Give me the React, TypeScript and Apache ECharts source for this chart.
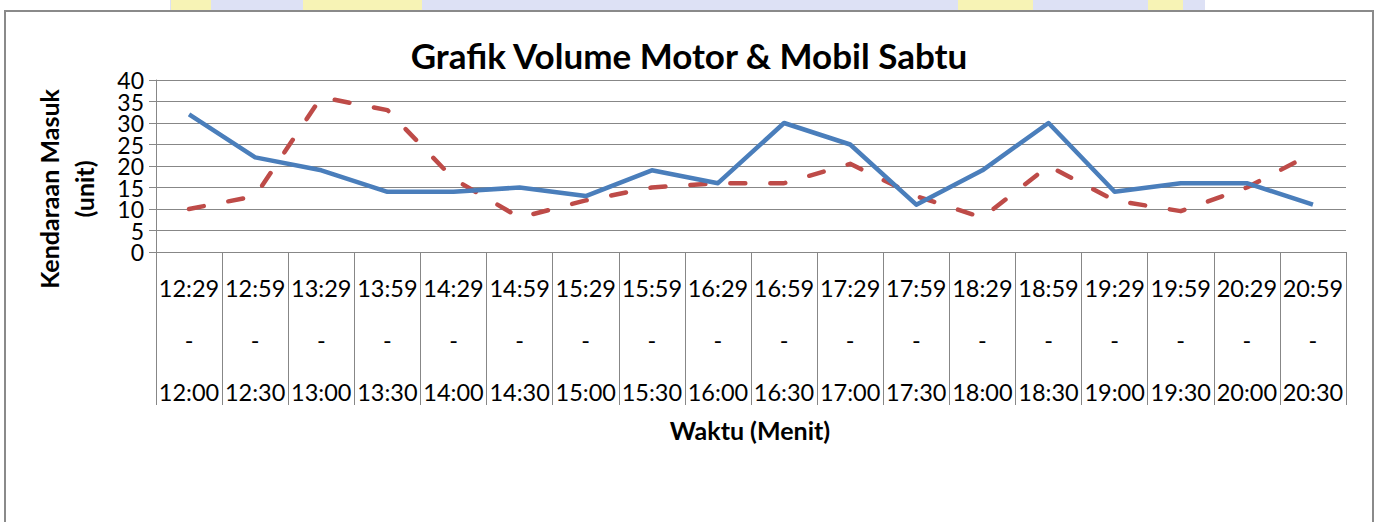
import React, { useEffect, useRef } from "react";
import * as echarts from "echarts";

const categories = [
  "12:29\n-\n12:00", "12:59\n-\n12:30", "13:29\n-\n13:00", "13:59\n-\n13:30",
  "14:29\n-\n14:00", "14:59\n-\n14:30", "15:29\n-\n15:00", "15:59\n-\n15:30",
  "16:29\n-\n16:00", "16:59\n-\n16:30", "17:29\n-\n17:00", "17:59\n-\n17:30",
  "18:29\n-\n18:00", "18:59\n-\n18:30", "19:29\n-\n19:00", "19:59\n-\n19:30",
  "20:29\n-\n20:00", "20:59\n-\n20:30",
];
const seriesSolid = [32, 22, 19, 14, 14, 15, 13, 19, 16, 30, 25, 11, 19, 30, 14, 16, 16, 11];
const seriesDashed = [10, 13, 36, 33, 17, 8, 12, 15, 16, 16, 20.5, 13, 8, 20, 12, 9.5, 15, 23];
const yMin = 0;
const yMax = 40;
const yStep = 5;

const titleText = "Grafik Volume Motor & Mobil Sabtu";
const yName1 = "Kendaraan Masuk";
const yName2 = "(unit)";
const xName = "Waktu (Menit)";

const FONT = "Lato, 'Open Sans', sans-serif";
const GRAY = "#878787";

export default function App() {
  const ref = useRef<HTMLDivElement>(null);
  useEffect(() => {
    if (!ref.current) return;
    const chart = echarts.init(ref.current, null, { renderer: "svg" });
    const labelBase = {
      margin: 12,
      fontSize: 23,
      color: "#000",
      fontFamily: FONT,
      showMinLabel: true,
      showMaxLabel: true,
    };
    chart.setOption({
      animation: false,
      backgroundColor: "#ffffff",
      grid: { left: 156, right: 33, top: 80, bottom: 270, containLabel: false },
      xAxis: {
        type: "category",
        data: categories,
        boundaryGap: true,
        axisLine: { show: true, lineStyle: { color: GRAY, width: 1 } },
        axisTick: { show: true, interval: 0, length: 153, lineStyle: { color: GRAY, width: 1 } },
        axisLabel: {
          interval: 0,
          margin: 10,
          fontSize: 23.5,
          lineHeight: 52,
          color: "#000",
          fontFamily: FONT,
        },
        splitLine: { show: false },
      },
      yAxis: [
        {
          type: "value",
          position: "left",
          min: yMin,
          max: yMax,
          interval: yStep,
          axisLine: { show: true, lineStyle: { color: GRAY, width: 1 } },
          axisTick: { show: true, length: 7, lineStyle: { color: GRAY } },
          axisLabel: {
            ...labelBase,
            formatter: (v: number) => (v % (yStep * 2) === 0 ? String(v) : ""),
          },
          splitLine: { show: true, lineStyle: { color: GRAY, width: 1 } },
        },
        {
          type: "value",
          position: "left",
          offset: 0,
          min: yMin,
          max: yMax,
          interval: yStep,
          axisLine: { show: false },
          axisTick: { show: false },
          axisLabel: {
            ...labelBase,
            formatter: (v: number) => (v % (yStep * 2) !== 0 ? String(v) : ""),
          },
          splitLine: { show: false },
        },
      ],
      series: [
        {
          type: "line",
          data: seriesSolid,
          yAxisIndex: 0,
          symbol: "none",
          lineStyle: { color: "#4A7EBB", width: 4.5, join: "round" },
          z: 3,
        },
        {
          type: "line",
          data: seriesDashed,
          yAxisIndex: 0,
          symbol: "none",
          lineStyle: { color: "#BE4B48", width: 4.5, type: [15, 25], cap: "round", join: "round" },
          z: 2,
        },
      ],
      graphic: [
        { type: "rect", shape: { x: 170, y: 0, width: 1035, height: 10 }, style: { fill: "#dde1f5" }, z: -1 },
        { type: "rect", shape: { x: 171, y: 0, width: 40, height: 10 }, style: { fill: "#f7f3b5" }, z: 0 },
        { type: "rect", shape: { x: 303, y: 0, width: 119, height: 10 }, style: { fill: "#f7f3b5" }, z: 0 },
        { type: "rect", shape: { x: 958, y: 0, width: 75, height: 10 }, style: { fill: "#f7f3b5" }, z: 0 },
        { type: "rect", shape: { x: 1148, y: 0, width: 35, height: 10 }, style: { fill: "#f7f3b5" }, z: 0 },
        {
          type: "rect",
          shape: { x: 5, y: 11, width: 1368, height: 530 },
          style: { fill: "none", stroke: "#8a8a8a", lineWidth: 2 },
          z: 10,
        },
        {
          type: "text",
          x: 689,
          y: 55,
          style: {
            text: titleText,
            font: `bold 35px ${FONT}`,
            fill: "#000",
            textAlign: "center",
            textVerticalAlign: "middle",
          },
        },
        {
          type: "text",
          x: 49,
          y: 189,
          rotation: Math.PI / 2,
          style: {
            text: yName1,
            font: `bold 25px ${FONT}`,
            fill: "#000",
            textAlign: "center",
            textVerticalAlign: "middle",
          },
        },
        {
          type: "text",
          x: 84,
          y: 189,
          rotation: Math.PI / 2,
          style: {
            text: yName2,
            font: `bold 25px ${FONT}`,
            fill: "#000",
            textAlign: "center",
            textVerticalAlign: "middle",
          },
        },
        {
          type: "text",
          x: 750,
          y: 430,
          style: {
            text: xName,
            font: `bold 25px ${FONT}`,
            fill: "#000",
            textAlign: "center",
            textVerticalAlign: "middle",
          },
        },
      ],
    });
    return () => chart.dispose();
  }, []);
  return <div ref={ref} style={{ width: 1379, height: 522, position: "absolute", left: 0, top: 0 }} />;
}
